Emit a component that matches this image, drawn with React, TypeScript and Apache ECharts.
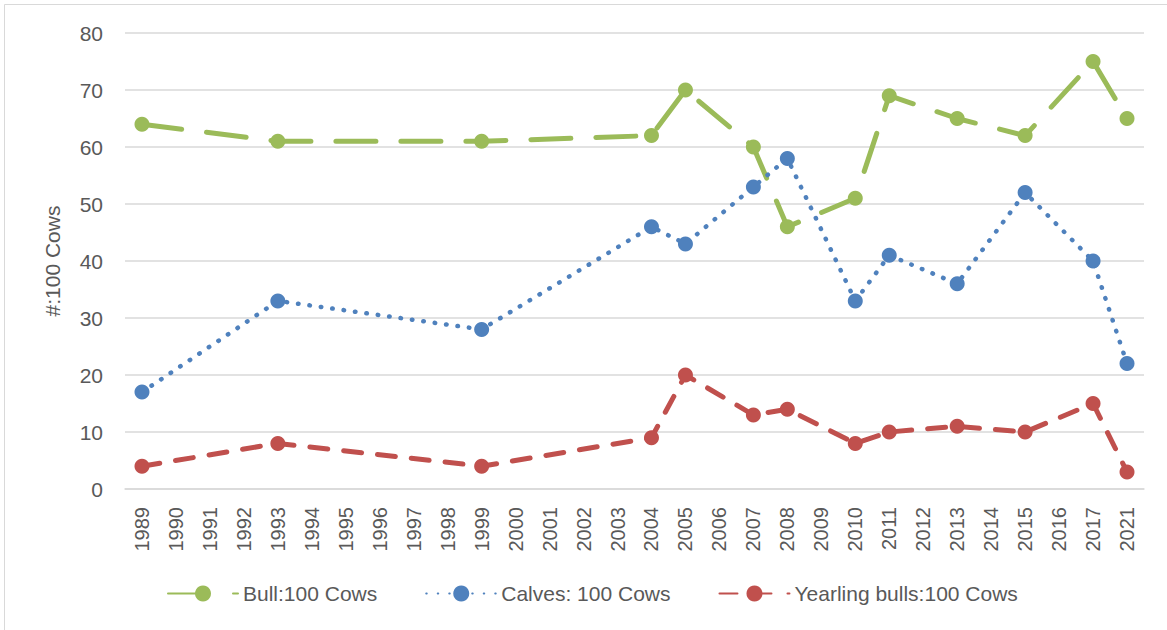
import React, { useEffect, useRef } from "react";
import * as echarts from "echarts";

const categories = [
  "1989", "1990", "1991", "1992", "1993", "1994", "1995", "1996", "1997", "1998",
  "1999", "2000", "2001", "2002", "2003", "2004", "2005", "2006", "2007", "2008",
  "2009", "2010", "2011", "2012", "2013", "2014", "2015", "2016", "2017", "2021",
];

const surveyYears = ["1989", "1993", "1999", "2004", "2005", "2007", "2008", "2010", "2011", "2013", "2015", "2017", "2021"];
const bullPer100Cows = [64, 61, 61, 62, 70, 60, 46, 51, 69, 65, 62, 75, 65];
const calvesPer100Cows = [17, 33, 28, 46, 43, 53, 58, 33, 41, 36, 52, 40, 22];
const yearlingPer100Cows = [4, 8, 4, 9, 20, 13, 14, 8, 10, 11, 10, 15, 3];

const yTicks = [0, 10, 20, 30, 40, 50, 60, 70, 80];

const seriesNames = ["Bull:100 Cows", "Calves: 100 Cows", "Yearling bulls:100 Cows"];

const toSeries = (vals: number[]) =>
  categories.map((c) => {
    const i = surveyYears.indexOf(c);
    return i >= 0 ? vals[i] : null;
  });

const FONT = "'Liberation Sans', Arial, sans-serif";

export default function App() {
  const ref = useRef<HTMLDivElement>(null);
  useEffect(() => {
    if (!ref.current) return;
    const chart = echarts.init(ref.current, undefined, { renderer: "svg" });
    const mk = (name: string, vals: number[], color: string, width: number, dash: number[]) => ({
      name,
      type: "line",
      data: toSeries(vals),
      connectNulls: true,
      symbol: "circle",
      symbolSize: 15,
      itemStyle: { color },
      lineStyle: { color, width, type: dash, cap: "round" },
    });
    chart.setOption({
      animation: false,
      textStyle: { fontFamily: FONT },
      graphic: [
        {
          type: "rect",
          shape: { x: 4.5, y: 4.5, width: 1200, height: 700 },
          style: { fill: "none", stroke: "#d9d9d9", lineWidth: 1 },
          silent: true,
        },
      ],
      grid: { left: 125, right: 23, top: 33, bottom: 141, containLabel: false },
      xAxis: {
        type: "category",
        data: categories,
        boundaryGap: true,
        axisLine: { show: true, lineStyle: { color: "#d9d9d9", width: 1.5 } },
        axisTick: { show: false },
        axisLabel: {
          rotate: 90,
          interval: 0,
          margin: 18,
          color: "#595959",
          fontSize: 20,
          fontFamily: FONT,
        },
      },
      yAxis: {
        type: "value",
        min: yTicks[0],
        max: yTicks[yTicks.length - 1],
        interval: 10,
        name: "#:100 Cows",
        nameLocation: "middle",
        nameRotate: 90,
        nameGap: 62,
        nameTextStyle: { color: "#595959", fontSize: 21, fontFamily: FONT },
        axisLine: { show: false },
        axisTick: { show: false },
        axisLabel: { color: "#595959", fontSize: 21, margin: 22, fontFamily: FONT },
        splitLine: { show: true, lineStyle: { color: "#d9d9d9", width: 1.5 } },
      },
      legend: {
        left: 162,
        top: 578,
        itemWidth: 70,
        itemHeight: 20,
        itemGap: 48,
        textStyle: { color: "#595959", fontSize: 21, fontFamily: FONT },
        data: seriesNames,
      },
      series: [
        mk(seriesNames[0], bullPer100Cows, "#9bbb59", 5, [40, 25]),
        mk(seriesNames[1], calvesPer100Cows, "#4f81bd", 4.5, [0.5, 11]),
        mk(seriesNames[2], yearlingPer100Cows, "#c0504d", 5, [18, 16]),
      ],
    });
    return () => chart.dispose();
  }, []);
  return (
    <div
      ref={ref}
      style={{ position: "absolute", left: 0, top: 0, width: 1167, height: 630, background: "#fff" }}
    />
  );
}
